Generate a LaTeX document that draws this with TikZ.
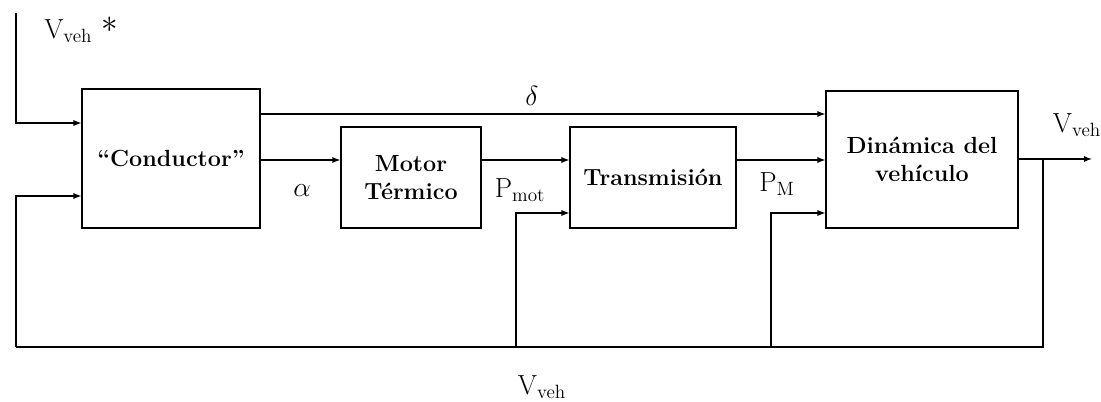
\documentclass[tikz,border=0pt]{standalone}
\usetikzlibrary{arrows.meta}
\begin{document}
\begin{tikzpicture}[x=0.75pt,y=-0.75pt,
  blk/.style={draw,line width=0.8pt,align=center,font=\fontsize{17.5}{21}\selectfont\bfseries,inner sep=0pt},
  arr/.style={line width=0.8pt,-{Latex[length=6pt,width=4.5pt]}},
  ln/.style={line width=0.8pt},
  lbl/.style={font=\fontsize{21}{24}\selectfont,inner sep=0pt}]
\useasboundingbox (0,0) rectangle (1101,402);
\node[blk,minimum width=133.5pt,minimum height=104.25pt] (cond) at (171,158.5) {``Conductor''};
\node[blk,minimum width=105pt,minimum height=75.75pt] (mot) at (411,177.5) {Motor\\Térmico};
\node[blk,minimum width=124.5pt,minimum height=75.75pt] (tra) at (653,177.5) {Transmisión};
\node[blk,minimum width=144pt,minimum height=102.75pt] (din) at (922,159.5) {Dinámica del\\vehículo};
% reference coordinates
\coordinate (top) at (16,13);
\coordinate (yref) at (0,123);
\coordinate (yfb) at (0,196);
\coordinate (yd) at (0,114);
\coordinate (ya) at (0,160);
\coordinate (ylow) at (0,213);
\coordinate (out) at (1092,159);
\coordinate (br) at (1043,159);
\coordinate (bc) at (1043,347);
\coordinate (bl) at (16,347);
\coordinate (b1) at (516,347);
\coordinate (b2) at (771,347);
% connectors
\draw[arr] (top) |- (cond.west |- yref);
\draw[arr] (cond.east |- yd) -- (din.west |- yd);
\draw[arr] (cond.east |- ya) -- (mot.west |- ya);
\draw[arr] (mot.east |- ya) -- (tra.west |- ya);
\draw[arr] (tra.east |- ya) -- (din.west |- ya);
\draw[arr] (din.east |- out) -- (out);
\draw[ln] (br) -- (bc) -- (bl);
\draw[arr] (bl) |- (cond.west |- yfb);
\draw[arr] (b1) |- (tra.west |- ylow);
\draw[arr] (b2) |- (din.west |- ylow);
% labels
\node[lbl,anchor=west] (l1) at (44,30) {$\mathrm{V}_{\scriptstyle\mathrm{veh}}$\,\,\raisebox{4pt}{\fontsize{28}{28}\selectfont$\ast$}};
\node[lbl] (l2) at (532,96) {$\delta$};
\node[lbl] (l3) at (302,191) {$\alpha$};
\node[lbl] (l4) at (520,190) {$\mathrm{P}_{\scriptstyle\mathrm{mot}}$};
\node[lbl] (l5) at (777,184) {$\mathrm{P}_{\scriptstyle\mathrm{M}}$};
\node[lbl] (l6) at (1077,125) {$\mathrm{V}_{\scriptstyle\mathrm{veh}}$};
\node[lbl] (l7) at (542,387) {$\mathrm{V}_{\scriptstyle\mathrm{veh}}$};
\end{tikzpicture}
\end{document}
